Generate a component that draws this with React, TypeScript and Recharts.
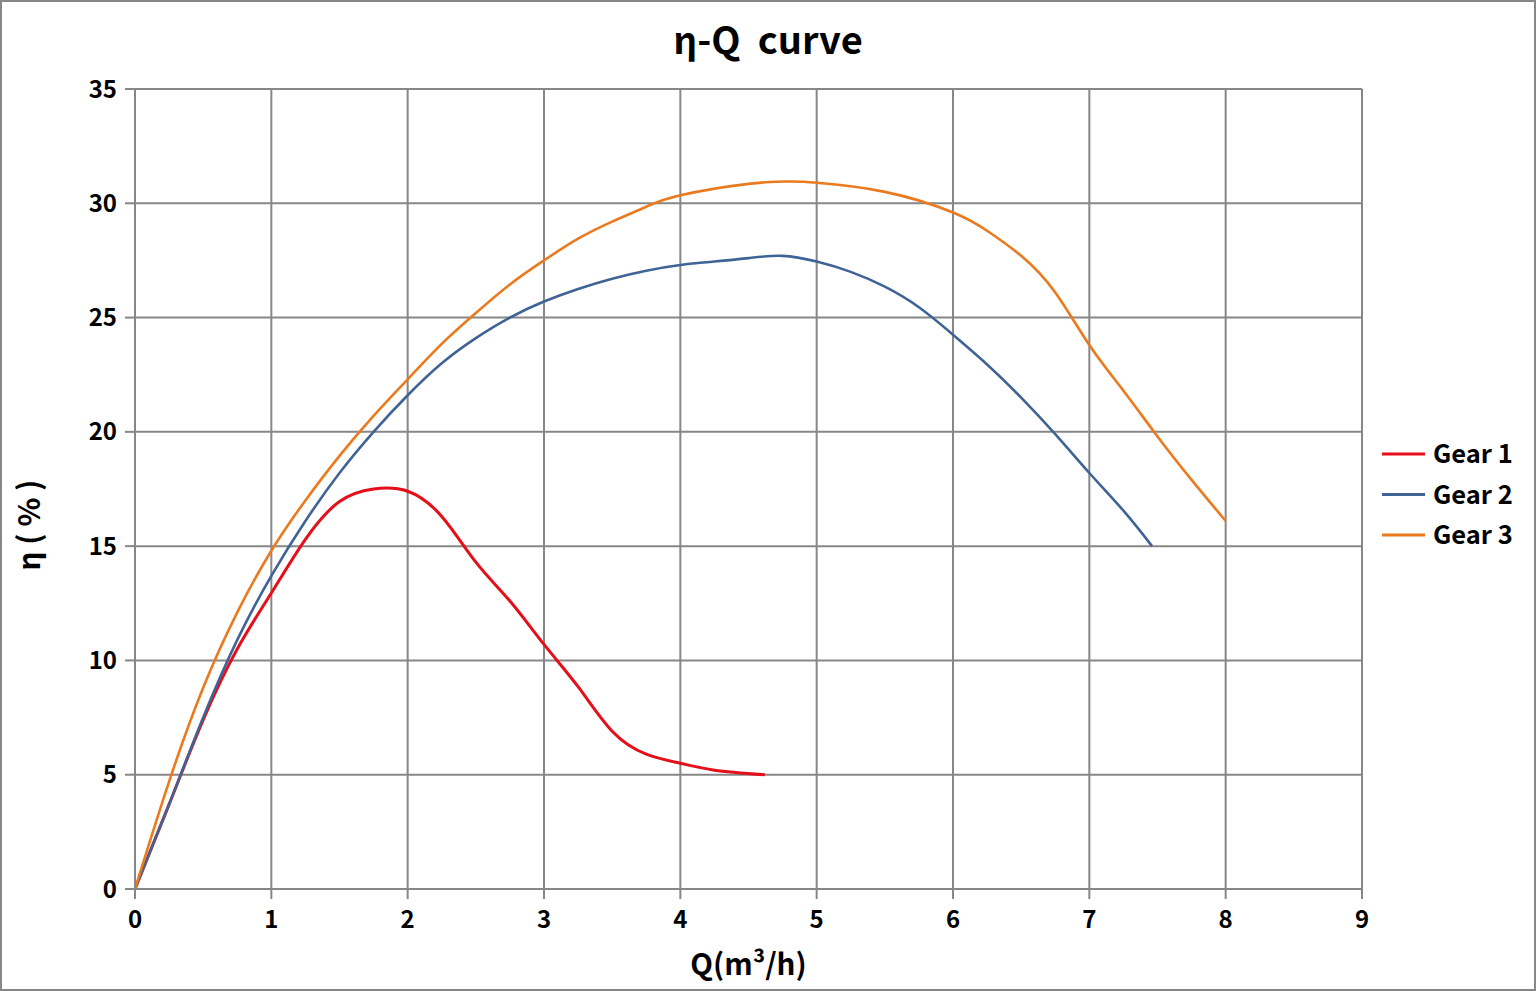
import React from 'react';
import { LineChart, Line, XAxis, YAxis, CartesianGrid } from 'recharts';

const xTicks = [0, 1, 2, 3, 4, 5, 6, 7, 8, 9];
const yTicks = [0, 5, 10, 15, 20, 25, 30, 35];

const gear1 = [
  { q: 0, eta: 0 }, { q: 0.25, eta: 3.7 }, { q: 0.5, eta: 7.4 }, { q: 0.75, eta: 10.5 },
  { q: 1.0, eta: 12.95 }, { q: 1.25, eta: 15.3 }, { q: 1.5, eta: 16.95 }, { q: 1.75, eta: 17.5 },
  { q: 2.0, eta: 17.4 }, { q: 2.25, eta: 16.3 }, { q: 2.5, eta: 14.3 }, { q: 2.75, eta: 12.6 },
  { q: 3.0, eta: 10.7 }, { q: 3.25, eta: 8.85 }, { q: 3.5, eta: 6.9 }, { q: 3.75, eta: 5.9 },
  { q: 4.0, eta: 5.5 }, { q: 4.25, eta: 5.2 }, { q: 4.62, eta: 5.0 },
];

const gear2 = [
  { q: 0, eta: 0 }, { q: 0.25, eta: 3.7 }, { q: 0.5, eta: 7.5 }, { q: 0.75, eta: 10.9 },
  { q: 1.0, eta: 13.7 }, { q: 1.25, eta: 16.1 }, { q: 1.5, eta: 18.2 }, { q: 1.75, eta: 20.0 },
  { q: 2.0, eta: 21.6 }, { q: 2.25, eta: 23.0 }, { q: 2.5, eta: 24.1 }, { q: 2.75, eta: 25.0 },
  { q: 3.0, eta: 25.7 }, { q: 3.25, eta: 26.25 }, { q: 3.5, eta: 26.7 }, { q: 3.75, eta: 27.05 },
  { q: 4.0, eta: 27.3 }, { q: 4.25, eta: 27.45 }, { q: 4.5, eta: 27.6 }, { q: 4.75, eta: 27.7 },
  { q: 5.0, eta: 27.45 }, { q: 5.25, eta: 27.0 }, { q: 5.5, eta: 26.35 }, { q: 5.75, eta: 25.45 },
  { q: 6.0, eta: 24.25 }, { q: 6.25, eta: 22.95 }, { q: 6.5, eta: 21.5 }, { q: 6.75, eta: 19.9 },
  { q: 7.0, eta: 18.2 }, { q: 7.25, eta: 16.55 }, { q: 7.46, eta: 15.0 },
];

const gear3 = [
  { q: 0, eta: 0 }, { q: 0.25, eta: 4.7 }, { q: 0.5, eta: 8.8 }, { q: 0.75, eta: 12.1 },
  { q: 1.0, eta: 14.8 }, { q: 1.25, eta: 17.0 }, { q: 1.5, eta: 18.95 }, { q: 1.75, eta: 20.7 },
  { q: 2.0, eta: 22.3 }, { q: 2.25, eta: 23.85 }, { q: 2.5, eta: 25.2 }, { q: 2.75, eta: 26.45 },
  { q: 3.0, eta: 27.5 }, { q: 3.25, eta: 28.45 }, { q: 3.5, eta: 29.2 }, { q: 3.75, eta: 29.85 },
  { q: 4.0, eta: 30.35 }, { q: 4.5, eta: 30.85 }, { q: 4.8, eta: 30.95 }, { q: 5.0, eta: 30.9 },
  { q: 5.5, eta: 30.5 }, { q: 6.0, eta: 29.6 }, { q: 6.25, eta: 28.8 },
  { q: 6.5, eta: 27.7 }, { q: 6.75, eta: 26.1 }, { q: 7.0, eta: 23.8 },
  { q: 7.25, eta: 21.8 }, { q: 7.5, eta: 19.8 }, { q: 7.75, eta: 17.9 }, { q: 8.0, eta: 16.1 },
];

const seriesNames = ['Gear 1', 'Gear 2', 'Gear 3'];
const seriesColors = ['#E60F19', '#3F6395', '#EB7A1E'];
const seriesData = [gear1, gear2, gear3];
const seriesWidths = [3, 2.6, 2.6];

const FONT = '"Noto Sans CJK KR", "Noto Sans", "Open Sans", sans-serif';
const GRID = '#878787';

const W = 1536;
const H = 991;

export default function App() {
  const tickStyle = { fill: '#000', fontSize: 24, fontWeight: 700, fontFamily: FONT };
  return (
    <div style={{ position: 'absolute', left: 0, top: 0, width: W, height: H, background: '#fff' }}>
      <LineChart
        width={W}
        height={H}
        margin={{ top: 89, right: 174, bottom: 0, left: 0 }}
      >
        <CartesianGrid stroke={GRID} strokeWidth={2} />
        <XAxis
          dataKey="q"
          type="number"
          domain={[0, 9]}
          ticks={xTicks}
          interval={0}
          height={102}
          tick={tickStyle}
          tickSize={10}
          tickMargin={12}
          tickLine={{ stroke: GRID, strokeWidth: 2 }}
          axisLine={{ stroke: GRID, strokeWidth: 2 }}
          allowDataOverflow
        />
        <YAxis
          type="number"
          domain={[0, 35]}
          ticks={yTicks}
          interval={0}
          width={135}
          tick={tickStyle}
          tickSize={10}
          tickMargin={8}
          tickLine={{ stroke: GRID, strokeWidth: 2 }}
          axisLine={{ stroke: GRID, strokeWidth: 2 }}
          allowDataOverflow
        />
        {seriesData.map((d, i) => (
          <Line
            key={seriesNames[i]}
            data={d}
            dataKey="eta"
            name={seriesNames[i]}
            type="natural"
            stroke={seriesColors[i]}
            strokeWidth={seriesWidths[i]}
            dot={false}
            activeDot={false}
            isAnimationActive={false}
          />
        ))}
      </LineChart>
      <svg
        width={W}
        height={H}
        style={{ position: 'absolute', left: 0, top: 0, pointerEvents: 'none' }}
      >
        <rect x={1} y={1} width={W - 2} height={H - 2} fill="none" stroke={GRID} strokeWidth={2} />
        <text
          x={768}
          y={54}
          textAnchor="middle"
          fontFamily={FONT}
          fontWeight={700}
          fontSize={38}
          fill="#000"
        >
          {'η-Q\u00A0\u00A0curve'}
        </text>
        <text
          x={40}
          y={525}
          transform="rotate(-90 40 525)"
          textAnchor="middle"
          fontFamily={FONT}
          fontWeight={700}
          fontSize={30}
          fill="#000"
        >
          {'η\u00A0(\u00A0%\u00A0)'}
        </text>
        <text
          x={748.5}
          y={975}
          textAnchor="middle"
          fontFamily={FONT}
          fontWeight={700}
          fontSize={29.5}
          fill="#000"
        >
          {'Q(m³/h)'}
        </text>
        {seriesNames.map((n, i) => {
          const cy = 454 + i * 40.5;
          return (
            <g key={n}>
              <line x1={1382} x2={1425} y1={cy} y2={cy} stroke={seriesColors[i]} strokeWidth={3} />
              <text
                x={1433}
                y={cy + 9}
                fontFamily={FONT}
                fontWeight={700}
                fontSize={25.5}
                fill="#000"
              >
                {n}
              </text>
            </g>
          );
        })}
      </svg>
    </div>
  );
}
